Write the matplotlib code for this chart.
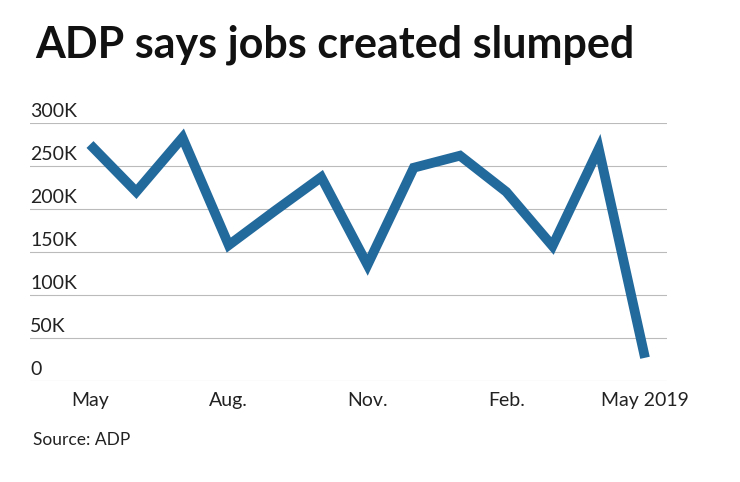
import matplotlib
matplotlib.use("Agg")
import matplotlib.pyplot as plt

months = list(range(13))
values = [275, 220, 283, 158, 198, 237, 135, 248, 262, 220, 157, 270, 27]
tick_pos = [0, 3, 6, 9, 12]
tick_labels = ["May", "Aug.", "Nov.", "Feb.", "May 2019"]
yticks = [0, 50, 100, 150, 200, 250, 300]
ylabels = ["0", "50K", "100K", "150K", "200K", "250K", "300K"]

W, H = 740, 482
fig = plt.figure(figsize=(7.4, 4.82), dpi=100)
plt.rcParams['font.family'] = ['Lato', 'DejaVu Sans']
x0, x1 = 30, 667
y0, y1 = 381, 123
ax = fig.add_axes([x0 / W, 1 - y0 / H, (x1 - x0) / W, (y0 - y1) / H])
xl = (x0 - 90) / 46.25
xr = (x1 - 90) / 46.25
ax.set_xlim(xl, xr)
ax.set_ylim(0, 300)
for y, lab in zip(yticks, ylabels):
    ax.axhline(y, color="#bbbbbb", lw=0.8, zorder=1)
    ax.text(xl, y + 4, lab, fontsize=14, color="#222222", ha="left", va="bottom")
ax.plot(months, values, color="#22699c", lw=7, solid_joinstyle="miter",
        solid_capstyle="butt", zorder=3, clip_on=False)
for sp in ax.spines.values():
    sp.set_visible(False)
ax.set_yticks([])
ax.set_xticks(tick_pos)
ax.set_xticklabels(tick_labels, fontsize=14, color="#222222")
ax.tick_params(axis="x", length=0, pad=8)
fig.text(35 / W, 1 - 45 / H, "ADP says jobs created slumped", fontsize=31,
         fontweight="bold", va="center", ha="left", color="#111111")
fig.text(33 / W, 1 - 440 / H, "Source: ADP", fontsize=12.5, va="center", ha="left", color="#222222")
fig.savefig("out.png", dpi=100)
